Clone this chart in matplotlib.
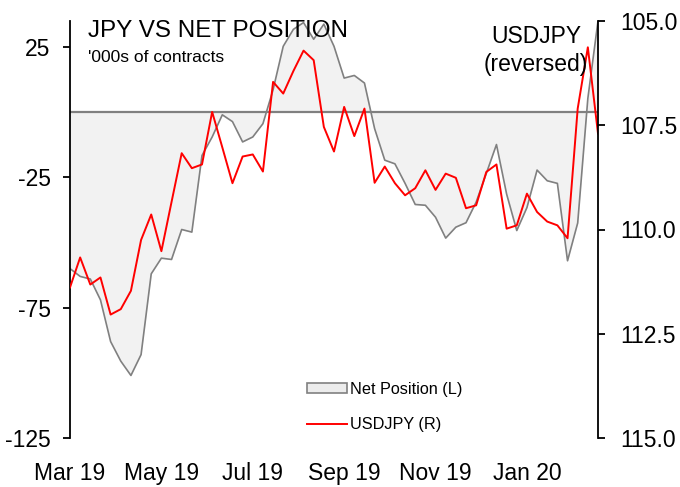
import matplotlib
matplotlib.use("Agg")
import matplotlib.pyplot as plt
import matplotlib.dates as mdates
from matplotlib.patches import Patch
from matplotlib.lines import Line2D
import pandas as pd

# weekly CFTC data, Tuesdays
dates = pd.date_range("2019-03-19", periods=53, freq="W-TUE")

net_position = [-60, -63, -64, -72, -88, -95.5, -101, -93, -62, -56,
                -56.5, -45, -46, -16.6, -9.5, -1, -3.6, -11.4, -9.5, -4.4,
                8.6, 25.3, 31.8, 34.4, 28, 33.8, 25.3, 13.1, 14.1, 11.2,
                -6.3, -18.4, -19.8, -27.3, -35.4, -35.7, -40.3, -48.3, -44.1, -42.4,
                -34.5, -23.5, -12.4, -31.4, -45.4, -36.6, -22.2, -26.3, -27.3, -57,
                -42.5, 5.3, 35]

usdjpy = [111.39, 110.67, 111.32, 111.15, 112.04, 111.91, 111.47, 110.25, 109.64, 110.52,
          109.34, 108.17, 108.53, 108.44, 107.18, 108.03, 108.89, 108.25, 108.20, 108.61,
          106.46, 106.74, 106.20, 105.71, 105.94, 107.54, 108.13, 107.06, 107.76, 107.10,
          108.88, 108.49, 108.89, 109.18, 109.01, 108.58, 109.05, 108.66, 108.76, 109.49,
          109.42, 108.62, 108.44, 109.98, 109.90, 109.14, 109.58, 109.81, 109.90, 110.21,
          107.10, 105.63, 107.70]

left_ticks = [25, -25, -75, -125]
right_ticks = [105.0, 107.5, 110.0, 112.5, 115.0]

font = ["Liberation Sans", "DejaVu Sans"]
tick_size = 16.5

fig = plt.figure(figsize=(6.8, 4.87), dpi=100)
ax = fig.add_axes([70 / 680, 49 / 487, 528 / 680, 417 / 487])

ax.fill_between(dates, net_position, 0, color="#f2f2f2", lw=0)
ax.plot(dates, net_position, color="#808080", lw=1.2)
ax.axhline(0, color="#808080", lw=1.6)
ax.set_xlim(dates[0], dates[-1])
ax.set_ylim(-125, 35)
ax.set_yticks(left_ticks)
ax.set_yticklabels([str(t) for t in left_ticks], family=font, fontsize=tick_size)

ax.set_xticks(dates[::9])
ax.xaxis.set_major_formatter(mdates.DateFormatter("%b %y"))
for lab in ax.get_xticklabels():
    lab.set_family(font)
    lab.set_fontsize(tick_size)
ax.tick_params(axis="x", length=0, pad=17)
ax.tick_params(axis="y", direction="out", length=5, width=1.3, pad=9, color="black")

for s in ["top", "bottom", "right"]:
    ax.spines[s].set_visible(False)
ax.spines["left"].set_linewidth(1.3)

ax2 = ax.twinx()
ax2.plot(dates, usdjpy, color="#ff0000", lw=1.4)
ax2.set_ylim(115, 105)
ax2.set_yticks(right_ticks)
ax2.set_yticklabels([f"{t:.1f}" for t in right_ticks], family=font, fontsize=tick_size)
ax2.tick_params(axis="y", direction="out", length=5, width=1.3, pad=11)
for s in ["top", "bottom", "left"]:
    ax2.spines[s].set_visible(False)
ax2.spines["right"].set_linewidth(1.3)

fig.text(88 / 680, 1 - 37 / 487, "JPY VS NET POSITION", family=font, fontsize=17.5, va="baseline")
fig.text(88 / 680, 1 - 62 / 487, "'000s of contracts", family=font, fontsize=12.5, va="baseline")
fig.text(536 / 680, 1 - 43 / 487, "USDJPY", family=font, fontsize=16.5, va="baseline", ha="center")
fig.text(536 / 680, 1 - 71 / 487, "(reversed)", family=font, fontsize=16.5, va="baseline", ha="center")

handles = [Patch(facecolor="#ececec", edgecolor="#808080", lw=1.2),
           Line2D([0], [0], color="#ff0000", lw=1.4)]
fig.legend(handles, ["Net Position (L)", "USDJPY (R)"], loc="upper left",
           bbox_to_anchor=(292 / 680, 1 - 367 / 487), frameon=False,
           prop={"family": font, "size": 11.7}, handlelength=2.5,
           handleheight=0.55, handletextpad=0.2, labelspacing=1.25)

fig.savefig("out.png", dpi=100)
